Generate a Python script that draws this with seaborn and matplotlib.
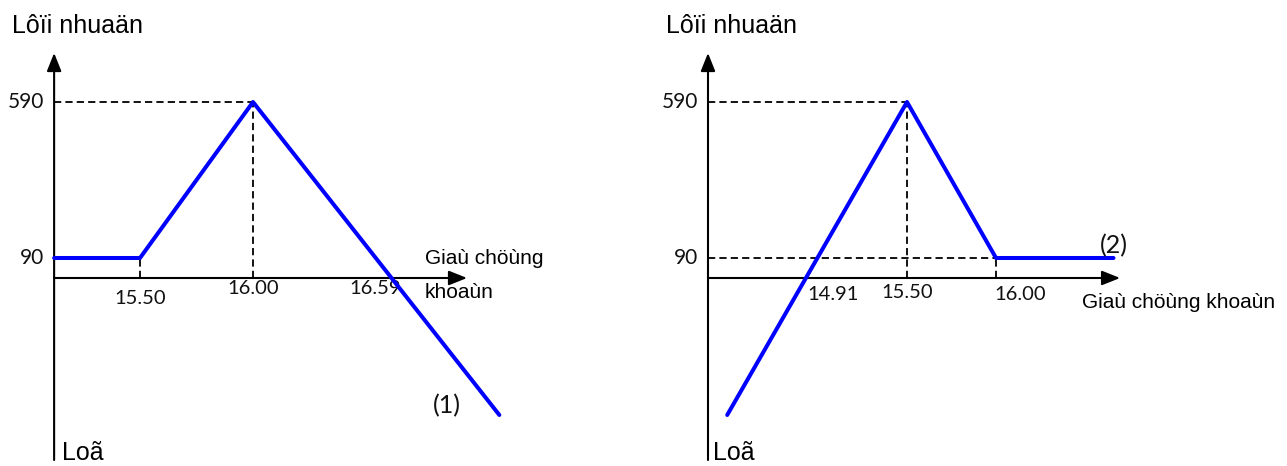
import numpy as np
import pandas as pd
import matplotlib
matplotlib.use("Agg")
import matplotlib.pyplot as plt
import seaborn as sns

# Payoff profile (1): long position hedged with options
left_price = [15.12, 15.50, 16.00, 17.09]
left_profit = [90, 90, 590, -500]
left_ticks = [15.50, 16.00, 16.59]

# Payoff profile (2)
right_price = [14.49, 15.50, 16.00, 16.66]
right_profit = [-420, 590, 90, 90]
right_ticks = [14.91, 15.50, 16.00]

profit_marks = [590, 90]

y_title = "Lôïi nhuaän"
x_title = "Giaù chöùng khoaùn"
x_title_parts = ["Giaù chöùng", "khoaùn"]
loss_title = "Loã"
curve_names = ["(1)", "(2)"]

sns.set_theme(style="white")
plt.rcParams["font.family"] = ["Liberation Sans", "DejaVu Sans"]
plt.rcParams["text.color"] = "black"

W, H = 1287, 466
fig = plt.figure(figsize=(W / 100, H / 100), dpi=100)
PT = 0.72  # points per pixel at 100 dpi

BLUE = "#0000ff"
NUM_FONT = ["Lato", "DejaVu Sans"]
NUM_COLOR = "#111111"


def fpos(x, y):
    """Pixel position (from top-left) to figure fraction."""
    return x / W, 1 - y / H


def schematic_scale(loss_floor):
    """Piecewise-linear profit axis: the drawing is not to scale."""
    pk = np.array([loss_floor * 20, loss_floor, 0, 90, 590, 590 + 3200.0])
    hk = np.array([-137 * 20, -137, 0, 20, 176, 1176.0])

    def fwd(v):
        return np.interp(v, pk, hk)

    def inv(h):
        return np.interp(h, hk, pk)

    return fwd, inv


def panel(ax, price, profit, ticks, ppu, anchor_px, axis_x, arrow_end,
          kinks, hguides, tick_style):
    fwd, inv = schematic_scale(min(profit))
    ax.set_yscale("function", functions=(fwd, inv))
    width_px = W / 2
    ax.set_xlim(15.5 - anchor_px / ppu, 15.5 + (width_px - anchor_px) / ppu)
    ax.set_ylim(float(inv(-188)), float(inv(278)))

    df = pd.DataFrame({"price": price, "profit": profit})
    sns.lineplot(data=df, x="price", y="profit", ax=ax, color=BLUE,
                 lw=2.9, sort=False, estimator=None, zorder=4)

    dash = dict(color="black", lw=1.3, ls=(0, (4, 2.3)), zorder=2)
    for px_, pf in kinks:
        ax.plot([px_, px_], [0, pf], **dash)
    for pf, x_to in hguides:
        ax.plot([axis_x, x_to], [pf, pf], **dash)

    arrow = dict(arrowstyle="-|>,head_length=0.55,head_width=0.22",
                 lw=1.5, color="black", shrinkA=0, shrinkB=0,
                 mutation_scale=20)
    ax.annotate("", xy=(axis_x, float(inv(225))),
                xytext=(axis_x, float(inv(-182))), arrowprops=arrow,
                zorder=3)
    ax.annotate("", xy=(arrow_end, 0), xytext=(axis_x, 0),
                arrowprops=arrow, zorder=3)

    for pf in profit_marks:
        ax.annotate(f"{pf}", xy=(axis_x, pf), xytext=(-10 * PT, 0),
                    textcoords="offset points", ha="right", va="center",
                    fontsize=15, family=NUM_FONT, color=NUM_COLOR)

    for t, (dx, dy, ha) in zip(ticks, tick_style):
        ax.annotate(f"{t:.2f}", xy=(t, 0), xytext=(dx * PT, -dy * PT),
                    textcoords="offset points", ha=ha, va="center",
                    fontsize=14.5, family=NUM_FONT, color=NUM_COLOR)
    ax.axis("off")


ax_l = fig.add_axes([0, 0, 0.5, 1])
panel(ax_l, left_price, left_profit, left_ticks, ppu=226, anchor_px=140,
      axis_x=left_price[0], arrow_end=16.947,
      kinks=[(15.50, 90), (16.00, 590)],
      hguides=[(590, 16.00)],
      tick_style=[(0, 21, "center"), (0, 11, "center"), (-11, 11, "center")])

ax_r = fig.add_axes([0.5, 0, 0.5, 1])
panel(ax_r, right_price, right_profit, right_ticks, ppu=178,
      anchor_px=263.5, axis_x=14.382, arrow_end=16.697,
      kinks=[(15.50, 590), (16.00, 90)],
      hguides=[(590, 15.50), (90, 16.00)],
      tick_style=[(5, 17, "left"), (0, 14, "center"), (-2, 17, "left")])

# Axis titles
for x0 in (12, 666):
    fig.text(*fpos(x0, 33), y_title, fontsize=18, va="baseline", ha="left")
for x0 in (62, 713):
    fig.text(*fpos(x0, 460), loss_title, fontsize=18, va="baseline", ha="left")
fig.text(*fpos(425, 264), x_title_parts[0], fontsize=15, va="baseline")
fig.text(*fpos(425, 298), x_title_parts[1], fontsize=15, va="baseline")
fig.text(*fpos(1082, 308), x_title, fontsize=15, va="baseline")

# Curve names
fig.text(*fpos(447, 406), curve_names[0], fontsize=18, family=NUM_FONT,
         ha="center", va="center", color=NUM_COLOR)
fig.text(*fpos(1114, 246), curve_names[1], fontsize=18, family=NUM_FONT,
         ha="center", va="center", color=NUM_COLOR)

fig.savefig("out.png", dpi=100)
